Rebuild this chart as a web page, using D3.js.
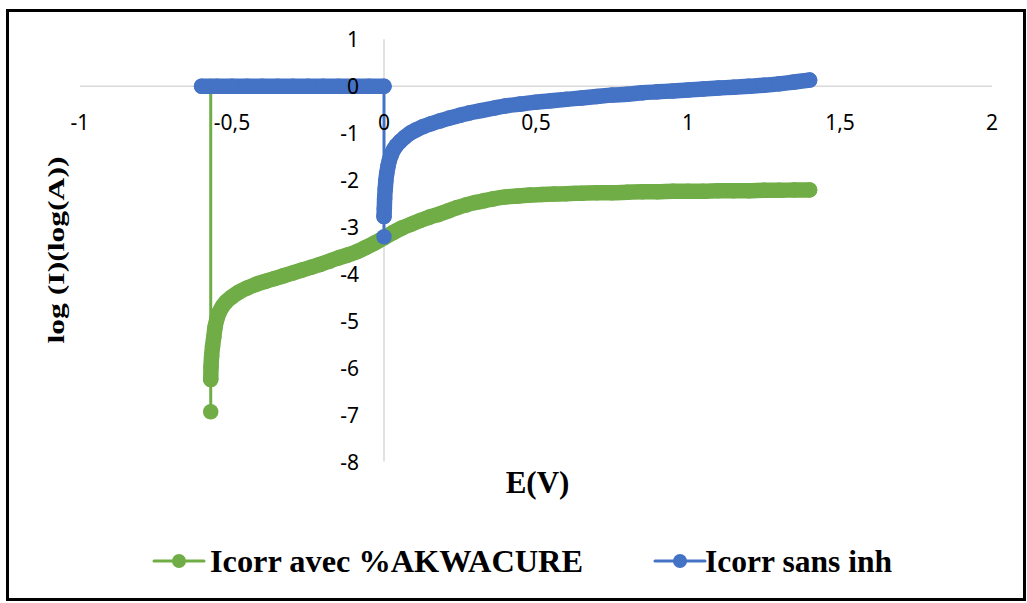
<!DOCTYPE html>
<html>
<head>
<meta charset="utf-8">
<script src="https://cdn.jsdelivr.net/npm/d3@7/dist/d3.min.js"></script>
<style>
  html, body { margin: 0; padding: 0; background: #fff; }
  svg { display: block; }
</style>
</head>
<body>
<svg id="chart" width="1027" height="603"></svg>
<script>
// Potential (V) and log current for the inhibited run
const greenE = [-0.570, -0.570, -0.570, -0.569, -0.567, -0.564, -0.560, -0.556, -0.550, -0.542,
  -0.532, -0.520, -0.500, -0.480, -0.450, -0.420, -0.390, -0.360, -0.330, -0.300,
  -0.270, -0.240, -0.210, -0.180, -0.150, -0.120, -0.090, -0.060, -0.030, 0.000,
  0.030, 0.060, 0.090, 0.120, 0.150, 0.180, 0.210, 0.240, 0.270, 0.300,
  0.330, 0.360, 0.400, 0.440, 0.480, 0.520, 0.560, 0.600, 0.650, 0.700,
  0.750, 0.800, 0.850, 0.900, 0.950, 1.000, 1.050, 1.100, 1.150, 1.200,
  1.250, 1.300, 1.350, 1.400];
const greenLogI = [0, -6.94, -6.25, -5.98, -5.75, -5.55, -5.35, -5.15, -4.97, -4.82,
  -4.70, -4.60, -4.49, -4.40, -4.30, -4.22, -4.16, -4.10, -4.04, -3.98,
  -3.92, -3.86, -3.80, -3.73, -3.66, -3.60, -3.53, -3.44, -3.34, -3.23,
  -3.12, -3.02, -2.94, -2.86, -2.79, -2.73, -2.66, -2.59, -2.53, -2.48,
  -2.44, -2.40, -2.36, -2.34, -2.32, -2.31, -2.30, -2.29, -2.28, -2.27,
  -2.27, -2.26, -2.25, -2.25, -2.24, -2.24, -2.24, -2.23, -2.23, -2.23,
  -2.22, -2.22, -2.21, -2.21];

// Potential (V) and log current for the blank run
const blueE = [-0.60, -0.55, -0.50, -0.45, -0.40, -0.35, -0.30, -0.25, -0.20, -0.15,
  -0.10, -0.05, 0.000, 0.000, 0.000, 0.001, 0.002, 0.004, 0.006, 0.009,
  0.013, 0.018, 0.024, 0.031, 0.040, 0.053, 0.068, 0.086, 0.106, 0.129,
  0.155, 0.184, 0.215, 0.250, 0.280, 0.320, 0.360, 0.400, 0.450, 0.500,
  0.550, 0.600, 0.650, 0.700, 0.750, 0.800, 0.850, 0.900, 0.950, 1.000,
  1.050, 1.100, 1.150, 1.200, 1.250, 1.300, 1.350, 1.400];
const blueLogI = [0, 0, 0, 0, 0, 0, 0, 0, 0, 0,
  0, 0, 0, -3.21, -2.78, -2.60, -2.40, -2.20, -2.02, -1.86,
  -1.71, -1.57, -1.46, -1.36, -1.27, -1.18, -1.09, -1.00, -0.93, -0.86,
  -0.80, -0.74, -0.68, -0.62, -0.57, -0.52, -0.47, -0.42, -0.38, -0.34,
  -0.31, -0.28, -0.25, -0.22, -0.19, -0.17, -0.14, -0.12, -0.10, -0.08,
  -0.06, -0.04, -0.02, 0.00, 0.02, 0.05, 0.09, 0.13];

const xTicks = [-1, -0.5, 0, 0.5, 1, 1.5, 2];
const yTicks = [1, 0, -1, -2, -3, -4, -5, -6, -7, -8];

const seriesNames = ["Icorr avec %AKWACURE", "Icorr sans inh"];
const seriesColors = ["#70AD47", "#4472C4"];

const svg = d3.select("#chart");
const W = 1027, H = 603;

svg.append("rect").attr("x", 0).attr("y", 0).attr("width", W).attr("height", H).attr("fill", "#fff");
// outer frame
svg.append("rect")
  .attr("x", 7.5).attr("y", 10.5).attr("width", 1017).attr("height", 589)
  .attr("fill", "none").attr("stroke", "#000").attr("stroke-width", 3);

const x = d3.scaleLinear().domain([-1, 2]).range([80, 992]);
const y = d3.scaleLinear().domain([-8, 1]).range([461.5, 39.3]);

const fmt = v => String(v).replace(".", ",");

// axis lines crossing at the origin
svg.append("line")
  .attr("x1", x(-1)).attr("x2", x(2)).attr("y1", y(0)).attr("y2", y(0))
  .attr("stroke", "#d9d9d9").attr("stroke-width", 1.5);
svg.append("line")
  .attr("x1", x(0)).attr("x2", x(0)).attr("y1", y(1)).attr("y2", y(-8))
  .attr("stroke", "#d9d9d9").attr("stroke-width", 1.5);

const series = [
  greenE.map((e, i) => ({ e, v: greenLogI[i] })),
  blueE.map((e, i) => ({ e, v: blueLogI[i] }))
];

const MARK = 15.5;   // marker diameter
const line = d3.line().x(d => x(d.e)).y(d => y(d.v));

series.forEach((pts, si) => {
  const col = seriesColors[si];
  const g = svg.append("g");
  // connecting line
  g.append("path").attr("d", line(pts))
    .attr("fill", "none").attr("stroke", col).attr("stroke-width", 3)
    .attr("stroke-linejoin", "round");
  // runs of overlapping markers merge into a continuous band
  const runs = [];
  let cur = [pts[0]];
  for (let i = 1; i < pts.length; i++) {
    const a = pts[i - 1], b = pts[i];
    const dist = Math.hypot(x(b.e) - x(a.e), y(b.v) - y(a.v));
    if (dist < 18) cur.push(b);
    else { runs.push(cur); cur = [b]; }
  }
  runs.push(cur);
  runs.filter(r => r.length > 1).forEach(r => {
    g.append("path").attr("d", d3.line().curve(d3.curveMonotoneX).x(d => x(d.e)).y(d => y(d.v))(r))
      .attr("fill", "none").attr("stroke", col).attr("stroke-width", MARK)
      .attr("stroke-linecap", "round").attr("stroke-linejoin", "round");
  });
  g.selectAll("circle").data(pts).join("circle")
    .attr("cx", d => x(d.e)).attr("cy", d => y(d.v)).attr("r", MARK / 2)
    .attr("fill", col);
});

// tick labels
const tickFont = "'Noto Sans', 'Liberation Sans', sans-serif";
svg.append("g").selectAll("text").data(xTicks).join("text")
  .attr("x", d => x(d)).attr("y", y(0) + 36)
  .attr("text-anchor", "middle").attr("dominant-baseline", "central")
  .attr("font-family", tickFont).attr("font-size", 21).attr("fill", "#000")
  .text(fmt);
svg.append("g").selectAll("text").data(yTicks).join("text")
  .attr("x", x(0) - 25).attr("y", d => y(d))
  .attr("text-anchor", "end").attr("dominant-baseline", "central")
  .attr("font-family", tickFont).attr("font-size", 21).attr("fill", "#000")
  .text(fmt);

// axis titles
const serif = "'Liberation Serif', 'Times New Roman', serif";
svg.append("text")
  .attr("x", 537.5).attr("y", 493)
  .attr("text-anchor", "middle")
  .attr("font-family", serif).attr("font-weight", "bold").attr("font-size", 31)
  .text("E(V)");
svg.append("text")
  .attr("transform", "translate(64,250) rotate(-90)")
  .attr("text-anchor", "middle")
  .attr("font-family", serif).attr("font-weight", "bold").attr("font-size", 23)
  .attr("textLength", 187).attr("lengthAdjust", "spacingAndGlyphs")
  .text("log (I)(log(A))");

// legend
const legendItems = [
  { cx: 179, tx: 210 },
  { cx: 680, tx: 705 }
];
legendItems.forEach((it, i) => {
  const g = svg.append("g");
  g.append("line").attr("x1", it.cx - 25).attr("x2", it.cx + 25)
    .attr("y1", 561).attr("y2", 561)
    .attr("stroke", seriesColors[i]).attr("stroke-width", 3).attr("stroke-linecap", "round");
  g.append("circle").attr("cx", it.cx).attr("cy", 561).attr("r", 7).attr("fill", seriesColors[i]);
  g.append("text").attr("x", it.tx).attr("y", 572)
    .attr("font-family", serif).attr("font-weight", "bold").attr("font-size", 32)
    .attr("textLength", i === 0 ? 373 : 187).attr("lengthAdjust", "spacingAndGlyphs")
    .text(seriesNames[i]);
});
</script>
</body>
</html>
